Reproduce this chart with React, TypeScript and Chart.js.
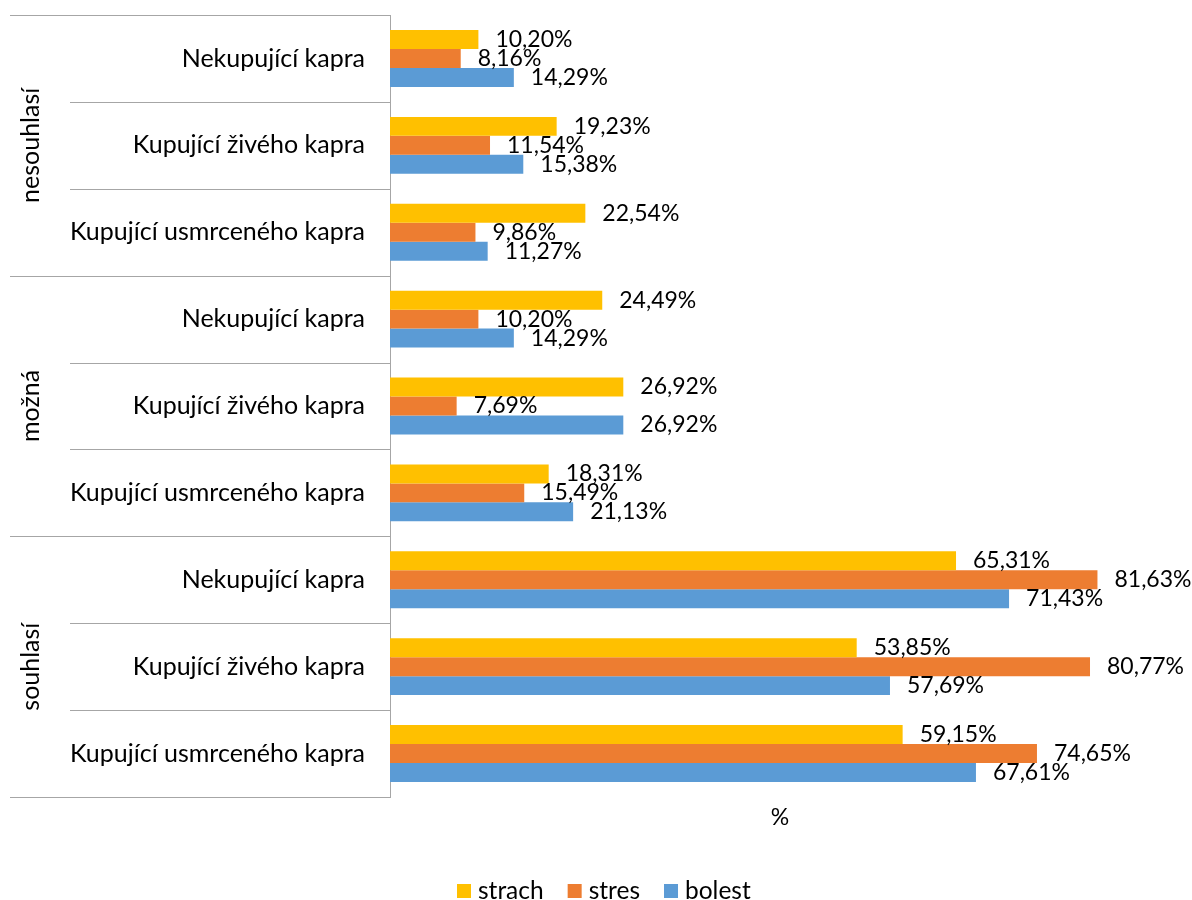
import React, { useEffect, useRef } from 'react';
import { Chart, registerables } from 'chart.js';

Chart.register(...registerables);

const groups = ['nesouhlasí', 'možná', 'souhlasí'];
const subcategories = ['Nekupující kapra', 'Kupující živého kapra', 'Kupující usmrceného kapra'];
const categories = [
  'Nekupující kapra', 'Kupující živého kapra', 'Kupující usmrceného kapra',
  'Nekupující kapra', 'Kupující živého kapra', 'Kupující usmrceného kapra',
  'Nekupující kapra', 'Kupující živého kapra', 'Kupující usmrceného kapra',
];
const seriesNames = ['strach', 'stres', 'bolest'];
const seriesColors = ['#FFC000', '#ED7D31', '#5B9BD5'];
const strach = [10.2, 19.23, 22.54, 24.49, 26.92, 18.31, 65.31, 53.85, 59.15];
const stres = [8.16, 11.54, 9.86, 10.2, 7.69, 15.49, 81.63, 80.77, 74.65];
const bolest = [14.29, 15.38, 11.27, 14.29, 26.92, 21.13, 71.43, 57.69, 67.61];
const axisTitle = '%';
const valueMax = 90;

const FONT = 'Lato, "Open Sans", sans-serif';
const FS_CAT = 25;
const FS_LABEL = 23;
const FS_LEGEND = 24.5;
const LINE = '#A6A6A6';
const TEXT = '#000000';

const fmt = (v: number) => v.toFixed(2).replace('.', ',') + '%';

const decorPlugin = {
  id: 'decor',
  afterDatasetsDraw(chart: any) {
    const ctx = chart.ctx;
    ctx.save();
    ctx.font = `${FS_LABEL}px ${FONT}`;
    ctx.fillStyle = TEXT;
    ctx.textAlign = 'left';
    ctx.textBaseline = 'middle';
    chart.data.datasets.forEach((ds: any, di: number) => {
      const meta = chart.getDatasetMeta(di);
      meta.data.forEach((bar: any, i: number) => {
        ctx.fillText(fmt(ds.data[i]), bar.x + 17, bar.y);
      });
    });
    ctx.restore();
  },
  afterDraw(chart: any) {
    const { ctx, chartArea, scales } = chart;
    const y = scales.y;
    const n = chart.data.labels.length;
    const step = y.getPixelForValue(1) - y.getPixelForValue(0);
    ctx.save();
    ctx.strokeStyle = LINE;
    ctx.lineWidth = 1;
    for (let i = 0; i <= n; i++) {
      const yy = Math.round(y.getPixelForValue(i) - step / 2) + 0.5;
      const x0 = i % subcategories.length === 0 ? 10 : 70;
      ctx.beginPath();
      ctx.moveTo(x0, yy);
      ctx.lineTo(chartArea.left, yy);
      ctx.stroke();
    }
    ctx.fillStyle = TEXT;
    ctx.font = `${FS_CAT}px ${FONT}`;
    ctx.textAlign = 'center';
    ctx.textBaseline = 'middle';
    groups.forEach((g, gi) => {
      const a = y.getPixelForValue(gi * 3);
      const b = y.getPixelForValue(gi * 3 + 2);
      const cy = (a + b) / 2;
      ctx.save();
      ctx.translate(31, cy);
      ctx.rotate(-Math.PI / 2);
      ctx.fillText(g, 0, 0);
      ctx.restore();
    });
    // axis title
    ctx.font = `${FS_LABEL}px ${FONT}`;
    ctx.fillText(axisTitle, (chartArea.left + chartArea.right) / 2, 818);
    // legend
    ctx.font = `${FS_LEGEND}px ${FONT}`;
    let x = 457;
    const ly = 891;
    ctx.textAlign = 'left';
    seriesNames.forEach((name, i) => {
      ctx.fillStyle = seriesColors[i];
      ctx.fillRect(x, ly - 7, 14, 14);
      ctx.fillStyle = TEXT;
      ctx.fillText(name, x + 21, ly);
      x += 21 + ctx.measureText(name).width + 24;
    });
    ctx.restore();
  },
};

export default function App() {
  const ref = useRef<HTMLCanvasElement | null>(null);
  useEffect(() => {
    if (!ref.current) return;
    const chart = new Chart(ref.current, {
      type: 'bar',
      data: {
        labels: categories,
        datasets: [strach, stres, bolest].map((d, i) => ({
          label: seriesNames[i],
          data: d,
          backgroundColor: seriesColors[i],
          borderWidth: 0,
          categoryPercentage: 0.655,
          barPercentage: 1,
        })),
      },
      options: {
        indexAxis: 'y',
        responsive: false,
        animation: false,
        devicePixelRatio: 1,
        layout: { padding: { top: 15, right: 22, bottom: 103, left: 0 } },
        plugins: { legend: { display: false }, tooltip: { enabled: false } },
        scales: {
          x: { display: false, min: 0, max: valueMax },
          y: {
            grid: { display: false, drawTicks: false },
            border: { display: true, color: LINE, width: 1 },
            ticks: { autoSkip: false, color: TEXT, padding: 25, font: { family: FONT, size: FS_CAT } },
            afterFit: (scale: any) => {
              scale.width = 390;
              scale.paddingTop = 0;
              scale.paddingBottom = 0;
            },
          },
        },
      },
      plugins: [decorPlugin],
    } as any);
    return () => chart.destroy();
  }, []);
  return (
    <div style={{ position: 'fixed', left: 0, top: 0, width: 1192, height: 900, background: '#fff' }}>
      <canvas ref={ref} width={1192} height={900} style={{ display: 'block' }} />
    </div>
  );
}
